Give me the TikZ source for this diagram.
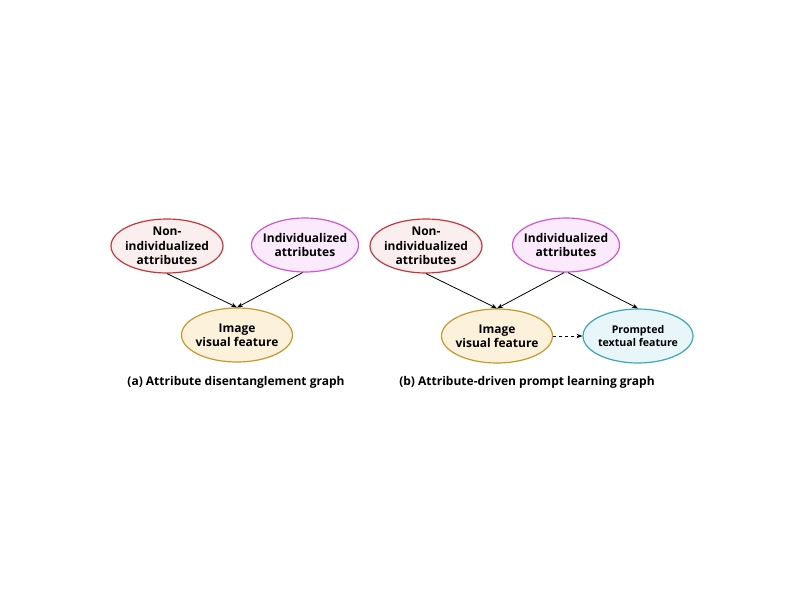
\documentclass[tikz,border=0pt]{standalone}
\usepackage{fontspec}
\setmainfont{Open Sans}
\usetikzlibrary{shapes.geometric,arrows.meta}
\definecolor{redB}{HTML}{C8363D}
\definecolor{redF}{HTML}{FBEEEE}
\definecolor{pinkB}{HTML}{D055D0}
\definecolor{pinkF}{HTML}{FBEAFB}
\definecolor{goldB}{HTML}{C9962A}
\definecolor{goldF}{HTML}{FCF1DA}
\definecolor{tealB}{HTML}{3BA4B8}
\definecolor{tealF}{HTML}{E8F6FA}
\tikzset{
  ell/.style={ellipse, inner sep=-5pt, line width=1.2pt, align=center,
    font=\fontsize{12}{14.3}\selectfont\bfseries, minimum height=54pt},
  nonind/.style={ell, draw=redB, fill=redF, minimum width=112pt},
  indiv/.style={ell, draw=pinkB, fill=pinkF, minimum width=107pt},
  imgf/.style={ell, draw=goldB, fill=goldF, minimum width=111pt},
  promf/.style={ell, draw=tealB, fill=tealF, minimum width=110pt,
    font=\fontsize{10.6}{13}\selectfont\bfseries},
  arr/.style={-{Stealth[length=6pt,width=4.5pt]}, line width=0.8pt},
  captxt/.style={font=\fontsize{12}{15}\selectfont\bfseries}
}
\begin{document}
\begin{tikzpicture}[x=1pt,y=-1pt]
\useasboundingbox (0,0) rectangle (800,600);
% panel (a)
\node[nonind] (na) at (167,246) {Non-\\individualized\\attributes};
\node[indiv] (ia) at (305,245) {Individualized\\attributes};
\node[imgf] (ga) at (237,335) {Image\\visual feature};
\node[captxt] (capa) at (236,382) {(a) Attribute disentanglement graph};
\draw[arr] (na.south) -- (ga.north);
\draw[arr] (ia.265) -- (ga.north);
% panel (b)
\node[nonind] (nb) at (426,246) {Non-\\individualized\\attributes};
\node[indiv] (ib) at (566,245) {Individualized\\attributes};
\node[imgf] (gb) at (497,336) {Image\\visual feature};
\node[promf] (pb) at (638,336) {Prompted\\textual feature};
\node[captxt] (capb) at (527,382) {(b) Attribute-driven prompt learning graph};
\draw[arr] (nb.south) -- (gb.north);
\draw[arr] (ib.266) -- (gb.north);
\draw[arr] (ib.274) -- (pb.north);
\draw[arr, dashed] (gb.east) -- (pb.west);
\end{tikzpicture}
\end{document}
